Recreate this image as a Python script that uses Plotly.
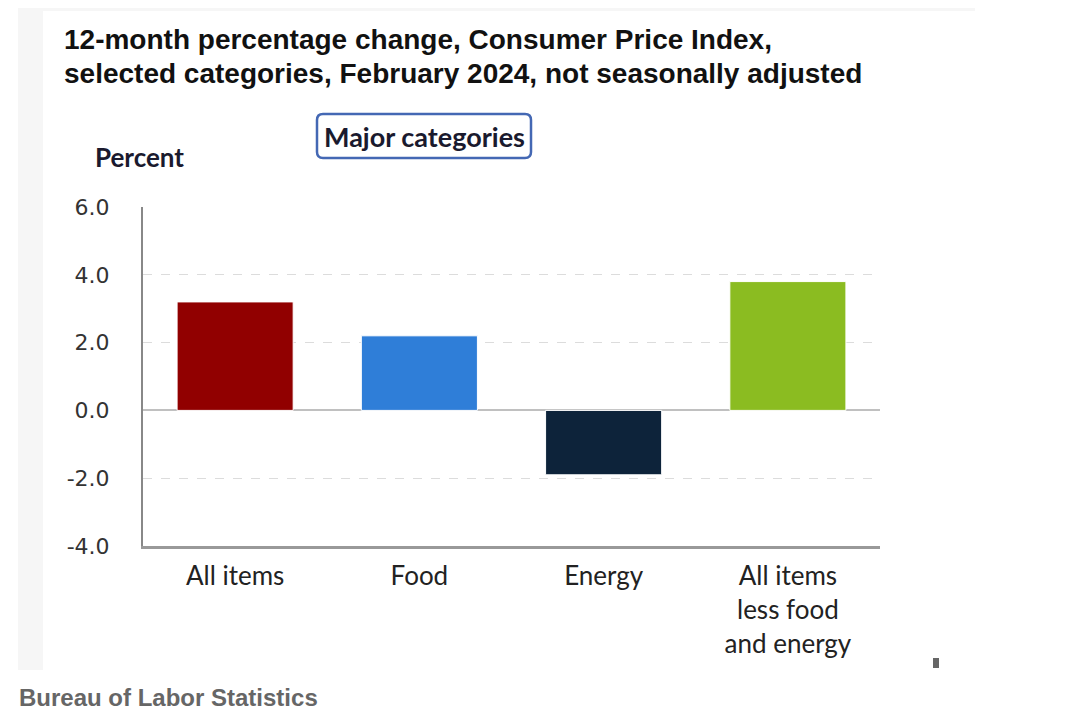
import plotly.graph_objects as go

categories = ["All items", "Food", "Energy", "All items<br>less food<br>and energy"]
values = [3.2, 2.2, -1.9, 3.8]
bar_colors = ["#910000", "#2f7ed8", "#0d233a", "#8bbc21"]
tick_vals = [-4, -2, 0, 2, 4, 6]
tick_text = ["-4.0", "-2.0", "0.0", "2.0", "4.0", "6.0"]

# figure sized to fit inside the window (body margin 8px)
W, H = 1075, 705
OX, OY = 8, 8
def px(x):
    return (x - OX) / W
def py(y):
    return 1 - (y - OY) / H

fig = go.Figure()
fig.add_trace(go.Bar(
    x=categories, y=values,
    marker=dict(color=bar_colors, line=dict(color="white", width=1)),
    width=0.63, showlegend=False, hoverinfo="x+y",
))

fig.update_layout(
    width=W, height=H,
    margin=dict(l=0, r=0, t=0, b=0),
    paper_bgcolor="white", plot_bgcolor="white",
    xaxis=dict(
        domain=[px(143), px(880)],
        showgrid=False, zeroline=False,
        showline=True, linecolor="#999999", linewidth=3,
        tickfont=dict(family="Lato", size=26, color="#222222"),
        ticks="", ticklabelstandoff=5, automargin=False,
    ),
    yaxis=dict(
        domain=[py(546), py(207)],
        range=[-4, 6],
        tickvals=tick_vals, ticktext=tick_text,
        showgrid=True, gridcolor="#dcdcdc", griddash="dash", gridwidth=1,
        zeroline=True, zerolinecolor="#c0c0c0", zerolinewidth=2,
        showline=True, linecolor="#888888", linewidth=2,
        tickfont=dict(family="DejaVu Sans", size=22, color="#333333"),
        ticks="", ticklabelstandoff=27, automargin=False,
    ),
    font=dict(family="Liberation Sans"),
)

# background panel
fig.add_shape(type="rect", xref="paper", yref="paper",
              x0=px(18), x1=px(975), y0=py(670), y1=1,
              fillcolor="#f6f6f6", line=dict(width=0), layer="below")
fig.add_shape(type="rect", xref="paper", yref="paper",
              x0=px(43), x1=px(975), y0=py(670), y1=py(11),
              fillcolor="white", line=dict(width=0), layer="below")

# title
fig.add_annotation(xref="paper", yref="paper", x=px(62), y=py(40),
                   xanchor="left", yanchor="middle", align="left", showarrow=False,
                   text="<b>12-month percentage change, Consumer Price Index,</b>",
                   font=dict(family="Liberation Sans", size=28, color="#111111"))
fig.add_annotation(xref="paper", yref="paper", x=px(62), y=py(73),
                   xanchor="left", yanchor="middle", align="left", showarrow=False,
                   text="<b>selected categories, February 2024, not seasonally adjusted</b>",
                   font=dict(family="Liberation Sans", size=28, color="#111111"))

# legend-like box with rounded corners
x0, x1, y0, y1, r = px(317), px(531), py(158), py(114), 6
rx, ry = r / W, r / H
path = (f"M {x0+rx},{y1} L {x1-rx},{y1} Q {x1},{y1} {x1},{y1-ry} "
        f"L {x1},{y0+ry} Q {x1},{y0} {x1-rx},{y0} L {x0+rx},{y0} "
        f"Q {x0},{y0} {x0},{y0+ry} L {x0},{y1-ry} Q {x0},{y1} {x0+rx},{y1} Z")
fig.add_shape(type="path", xref="paper", yref="paper", path=path,
              line=dict(color="#4468b4", width=2.5), fillcolor="white")
fig.add_annotation(xref="paper", yref="paper", x=px(424), y=py(136),
                   xanchor="center", yanchor="middle", showarrow=False,
                   text="<b>Major categories</b>",
                   font=dict(family="Lato", size=27, color="#1a1a2e"))

# Percent label
fig.add_annotation(xref="paper", yref="paper", x=px(93), y=py(157),
                   xanchor="left", yanchor="middle", showarrow=False,
                   text="<b>Percent</b>",
                   font=dict(family="Lato", size=26, color="#1a1a2e"))

# small mark
fig.add_shape(type="rect", xref="paper", yref="paper",
              x0=px(933), x1=px(939), y0=py(668), y1=py(658),
              fillcolor="#666666", line=dict(width=0))

# source
fig.add_annotation(xref="paper", yref="paper", x=px(17), y=py(697),
                   xanchor="left", yanchor="middle", showarrow=False,
                   text="<b>Bureau of Labor Statistics</b>",
                   font=dict(family="Liberation Sans", size=24, color="#666666"))

fig.write_html("out.html")
